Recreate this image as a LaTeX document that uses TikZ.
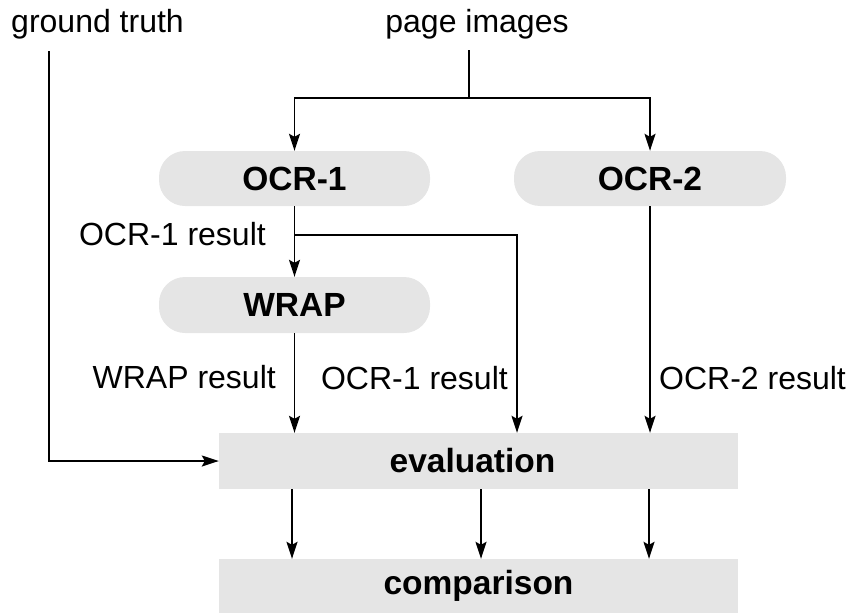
\documentclass[tikz,border=0pt]{standalone}
\usepackage{fontspec}
\setmainfont{Liberation Sans}
\usetikzlibrary{arrows.meta}
\definecolor{boxgray}{RGB}{229,229,229}
\tikzset{
  pill/.style={fill=boxgray, draw=none, rounded corners=26pt, inner sep=0pt,
    minimum width=271pt, minimum height=55pt,
    font=\fontsize{33.5pt}{40pt}\selectfont\bfseries},
  panel/.style={fill=boxgray, draw=none, inner sep=0pt,
    minimum width=519pt, font=\fontsize{33.5pt}{40pt}\selectfont\bfseries},
  lbl/.style={inner sep=0pt, font=\fontsize{32pt}{38pt}\selectfont},
  wire/.style={line width=1.5pt},
  flow/.style={wire, -{Stealth[length=17pt,width=11pt,inset=3pt]}},
}
\begin{document}
\begin{tikzpicture}[x=1pt, y={(0pt,-1pt)}]
\useasboundingbox (0,0) rectangle (846,613);

% sources
\node[lbl, anchor=base] (gt) at (97.5,32) {ground truth};
\node[lbl, anchor=base] (pi) at (477,32) {page images};
\coordinate (gttop) at (49,51);
\coordinate (pitop) at (469,50);
\coordinate (split) at (469,98);

% processing boxes
\node[pill] (ocr1) at (294.5,178.5) {OCR-1};
\node[pill, minimum width=272pt] (ocr2) at (650,178.5) {OCR-2};
\node[pill, minimum height=56pt] (wrap) at (294.5,305) {WRAP};
\node[panel, minimum height=56pt] (eval) at (478.5,461) {evaluation\hspace*{12pt}};
\node[panel, minimum height=54pt] (cmp) at (478.5,586) {comparison};

% page images to both OCR engines
\draw[wire] (pitop) -- (split);
\draw[flow] (split) -| (ocr1.north);
\draw[flow] (split) -| (ocr2.north);

% OCR-1 result feeds WRAP and the evaluation
\coordinate (br) at (ocr1.south |- 0,235);
\coordinate (o1drop) at (517,235);
\draw[flow] (ocr1.south) -- (wrap.north);
\draw[flow] (br) -- (o1drop) -- (o1drop |- eval.north);
\node[lbl, anchor=base east] (o1a) at (266,245) {OCR-1 result};

% results into the evaluation
\draw[flow] (wrap.south) -- (wrap.south |- eval.north);
\draw[flow] (ocr2.south) -- (ocr2.south |- eval.north);
\node[lbl, anchor=base east] (wr) at (276,388) {WRAP result};
\node[lbl, anchor=base east] (o1b) at (508,389) {OCR-1 result};
\node[lbl, anchor=base west] (o2) at (659,389) {OCR-2 result};

% ground truth into the evaluation
\draw[flow] (gttop) |- (eval.west);

% evaluation to comparison
\foreach \xx/\nm in {292/a, 481/b, 649/c}{
  \coordinate (e\nm) at (\xx,489);
  \draw[flow] (e\nm) -- (e\nm |- cmp.north);
}
\end{tikzpicture}
\end{document}
